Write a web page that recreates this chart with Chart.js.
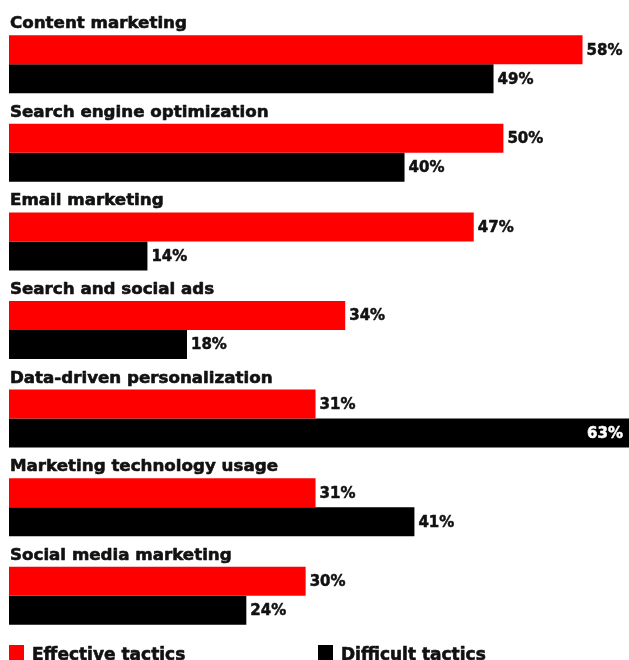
<!DOCTYPE html>
<html>
<head>
<meta charset="utf-8">
<script src="https://cdn.jsdelivr.net/npm/chart.js@4/dist/chart.umd.min.js"></script>
<style>
  html, body { margin: 0; padding: 0; background: #fff; }
  #wrap { position: relative; width: 629px; height: 660px; }
</style>
</head>
<body>
<div id="wrap"><canvas id="tacticsChart"></canvas></div>
<script>
const categories = [
  "Content marketing",
  "Search engine optimization",
  "Email marketing",
  "Search and social ads",
  "Data-driven personalization",
  "Marketing technology usage",
  "Social media marketing",
];
const effective = [58, 50, 47, 34, 31, 31, 30];
const difficult = [49, 40, 14, 18, 63, 41, 24];
const seriesNames = ["Effective tactics", "Difficult tactics"];
const seriesColors = ["#ff0000", "#000000"];

const FONT = '"DejaVu Sans", sans-serif';
const TEXT = "#111111";

// heavy text: fill plus a thin stroke in the same colour
function heavyText(ctx, txt, x, y, color, weight) {
  ctx.fillStyle = color;
  ctx.strokeStyle = color;
  ctx.lineWidth = weight;
  ctx.lineJoin = "round";
  ctx.strokeText(txt, x, y);
  ctx.fillText(txt, x, y);
}

// category titles above each pair + value labels at bar ends
const labelPlugin = {
  id: "barLabels",
  afterDatasetsDraw(chart) {
    const ctx = chart.ctx;
    const area = chart.chartArea;
    ctx.save();
    const first = chart.getDatasetMeta(0).data;
    ctx.font = "bold 16.7px " + FONT;
    ctx.textAlign = "left";
    ctx.textBaseline = "alphabetic";
    first.forEach((bar, i) => {
      const top = bar.y - bar.height / 2;
      heavyText(ctx, categories[i], 10, top - 7, TEXT, 0.6);
    });

    ctx.font = "bold 15px " + FONT;
    ctx.textBaseline = "middle";
    chart.data.datasets.forEach((ds, d) => {
      chart.getDatasetMeta(d).data.forEach((bar, i) => {
        const txt = ds.data[i] + "%";
        const w = ctx.measureText(txt).width;
        if (bar.x + w + 6 > area.right) {
          // no room past the end: put it inside the bar
          ctx.textAlign = "right";
          heavyText(ctx, txt, bar.x - 9, bar.y + 1, "#ffffff", 0.5);
        } else {
          ctx.textAlign = "left";
          heavyText(ctx, txt, bar.x + 4, bar.y + 1, TEXT, 0.5);
        }
      });
    });
    ctx.restore();
  },
  afterDraw(chart) {
    const ctx = chart.ctx;
    ctx.save();
    const xs = [9, 318];
    ctx.font = "bold 17px " + FONT;
    ctx.textBaseline = "alphabetic";
    ctx.textAlign = "left";
    seriesNames.forEach((name, i) => {
      ctx.fillStyle = seriesColors[i];
      ctx.fillRect(xs[i], 645, 15, 15);
      heavyText(ctx, name, xs[i] + 23, 660, TEXT, 0.6);
    });
    ctx.restore();
  },
};

const ctx = document.getElementById("tacticsChart").getContext("2d");

new Chart(ctx, {
  type: "bar",
  data: {
    labels: categories,
    datasets: [
      {
        label: seriesNames[0],
        data: effective,
        backgroundColor: seriesColors[0],
        categoryPercentage: 0.655,
        barPercentage: 1.0,
      },
      {
        label: seriesNames[1],
        data: difficult,
        backgroundColor: seriesColors[1],
        categoryPercentage: 0.655,
        barPercentage: 1.0,
      },
    ],
  },
  options: {
    indexAxis: "y",
    responsive: true,
    maintainAspectRatio: false,
    animation: false,
    layout: {
      padding: { top: 20, bottom: 20, left: 9, right: 0 },
    },
    plugins: {
      legend: { display: false },
      tooltip: { enabled: false },
    },
    scales: {
      x: { display: false, min: 0, max: 62.7 },
      y: { display: false },
    },
  },
  plugins: [labelPlugin],
});
</script>
</body>
</html>
